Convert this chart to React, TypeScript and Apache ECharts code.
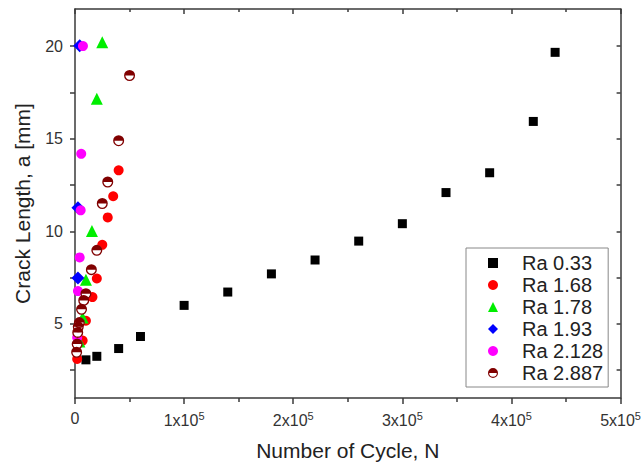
import React, { useEffect, useRef } from "react";
import * as echarts from "echarts";

// ---- data ----
const seriesNames = ["Ra 0.33", "Ra 1.68", "Ra 1.78", "Ra 1.93", "Ra 2.128", "Ra 2.887"];

const ra033N = [10000, 20000, 40000, 60000, 100000, 140000, 180000, 220000, 260000, 300000, 340000, 380000, 420000, 440000];
const ra033A = [3.06, 3.25, 3.67, 4.32, 6.0, 6.72, 7.7, 8.45, 9.47, 10.41, 12.09, 13.16, 15.93, 19.66];

const ra168N = [2000, 7000, 10000, 16000, 20000, 25000, 30000, 35000, 40000];
const ra168A = [3.11, 4.1, 5.17, 6.45, 7.45, 9.27, 10.75, 11.89, 13.29];

const ra178N = [4000, 7000, 10000, 15500, 20000, 25000];
const ra178A = [4.05, 5.34, 7.39, 10.02, 17.16, 20.2];

const ra193N = [2700, 2700, 4300];
const ra193A = [7.48, 11.27, 20.02];

const ra2128N = [2000, 2700, 4300, 5200, 5700, 7300];
const ra2128A = [4.27, 6.77, 8.59, 11.13, 14.18, 20.0];

const ra2887N = [1500, 2000, 2500, 3000, 4000, 6000, 8000, 10000, 15000, 20000, 25000, 30000, 40000, 50000];
const ra2887A = [3.47, 3.91, 4.54, 4.84, 5.07, 5.79, 6.27, 6.63, 7.93, 8.97, 11.5, 12.66, 14.89, 18.41];

const xTickValues = [0, 100000, 200000, 300000, 400000, 500000];
const yLabelValues = [5, 10, 15, 20];
const yTickValues = [2.5, 5, 7.5, 10, 12.5, 15, 17.5, 20];

const pairs = (xs: number[], ys: number[]) => xs.map((x, i) => [x, ys[i]]);

const FONT = "'Liberation Sans', Arial, sans-serif";
const AXIS_COLOR = "#3a3a3a";
const TEXT_COLOR = "#333";

const halfCircle =
  "path://M0,50 A50,50 0 0 1 100,50 Z M0,50 A50,50 0 0 0 100,50 L88,50 A38,38 0 0 1 12,50 Z";

export default function App() {
  const ref = useRef<HTMLDivElement | null>(null);

  useEffect(() => {
    if (!ref.current) return;
    const chart = echarts.init(ref.current, null, { renderer: "svg" });

    const axisLine = { show: true, onZero: false, lineStyle: { color: AXIS_COLOR, width: 1.5 } };

    const option: any = {
      animation: false,
      backgroundColor: "#fff",
      textStyle: { fontFamily: FONT },
      grid: { left: 75, right: 20, top: 9, bottom: 65 },
      legend: {
        data: seriesNames,
        orient: "vertical",
        left: 466,
        top: 248,
        padding: [5, 5, 4, 22],
        itemWidth: 10,
        itemHeight: 10,
        itemGap: 2,
        borderColor: "#888",
        borderWidth: 1,
        borderRadius: 0,
        formatter: "{t|{name}}",
        textStyle: {
          fontFamily: FONT,
          color: "#222",
          fontSize: 20,
          rich: { t: { fontFamily: FONT, fontSize: 20, color: "#222", lineHeight: 20, padding: [0, 0, 0, 19] } },
        },
      },
      xAxis: [
        {
          type: "value",
          position: "bottom",
          min: xTickValues[0],
          max: xTickValues[xTickValues.length - 1],
          interval: 100000,
          axisLine,
          axisTick: { show: true, length: 6, lineStyle: { color: AXIS_COLOR, width: 1.5 } },
          minorTick: { show: true, splitNumber: 2, length: 4, lineStyle: { color: AXIS_COLOR, width: 1.5 } },
          splitLine: { show: false },
          axisLabel: {
            margin: 12,
            fontSize: 16,
            color: TEXT_COLOR,
            fontFamily: FONT,
            formatter: (v: number) => (v === 0 ? "0" : `{b|${v / 100000}x10}{s|5}`),
            rich: {
              b: { fontSize: 16, color: TEXT_COLOR, fontFamily: FONT },
              s: { fontSize: 11, color: TEXT_COLOR, fontFamily: FONT, padding: [0, 0, 9, 0] },
            },
          },
          name: "Number of Cycle, N",
          nameLocation: "middle",
          nameGap: 42,
          nameTextStyle: { fontSize: 21, color: "#222", fontFamily: FONT },
        },
        {
          type: "value",
          position: "top",
          min: xTickValues[0],
          max: xTickValues[xTickValues.length - 1],
          interval: 100000,
          axisLine,
          axisTick: { show: true, inside: true, length: 5, lineStyle: { color: AXIS_COLOR, width: 1.5 } },
          minorTick: { show: true, splitNumber: 2, length: 3, lineStyle: { color: AXIS_COLOR, width: 1.5 } },
          splitLine: { show: false },
          axisLabel: { show: false },
        },
      ],
      yAxis: [
        {
          type: "value",
          position: "left",
          min: 1,
          max: 22,
          axisLine,
          axisTick: { show: true, length: 5, customValues: yTickValues, lineStyle: { color: AXIS_COLOR, width: 1.5 } },
          splitLine: { show: false },
          axisLabel: {
            customValues: yLabelValues,
            margin: 12,
            fontSize: 16,
            color: TEXT_COLOR,
            fontFamily: FONT,
          },
          name: "Crack Length, a [mm]",
          nameLocation: "middle",
          nameGap: 42,
          nameTextStyle: { fontSize: 21, color: "#222", fontFamily: FONT },
        },
        {
          type: "value",
          position: "right",
          min: 1,
          max: 22,
          axisLine,
          axisTick: { show: true, inside: true, length: 4, customValues: yTickValues, lineStyle: { color: AXIS_COLOR, width: 1.5 } },
          splitLine: { show: false },
          axisLabel: { show: false },
        },
      ],
      series: [
        {
          name: seriesNames[0],
          type: "scatter",
          symbol: "rect",
          symbolSize: 9,
          itemStyle: { color: "#000000", opacity: 1 },
          data: pairs(ra033N, ra033A),
        },
        {
          name: seriesNames[1],
          type: "scatter",
          symbol: "circle",
          symbolSize: 10,
          itemStyle: { color: "#ff0000", opacity: 1 },
          data: pairs(ra168N, ra168A),
        },
        {
          name: seriesNames[2],
          type: "scatter",
          symbol: "triangle",
          symbolSize: 12,
          itemStyle: { color: "#00ee00", opacity: 1 },
          data: pairs(ra178N, ra178A),
        },
        {
          name: seriesNames[3],
          type: "scatter",
          symbol: "diamond",
          symbolSize: 13,
          itemStyle: { color: "#0000ff", opacity: 1 },
          data: pairs(ra193N, ra193A),
        },
        {
          name: seriesNames[4],
          type: "scatter",
          symbol: "circle",
          symbolSize: 10,
          itemStyle: { color: "#ff00ff", opacity: 1 },
          data: pairs(ra2128N, ra2128A),
        },
        {
          name: "Ra 2.887 fill",
          type: "scatter",
          symbol: "circle",
          symbolSize: 10,
          itemStyle: { color: "#ffffff", opacity: 1 },
          silent: true,
          data: pairs(ra2887N, ra2887A),
        },
        {
          name: seriesNames[5],
          type: "scatter",
          symbol: halfCircle,
          symbolSize: 11,
          itemStyle: { color: "#800000", opacity: 1 },
          data: pairs(ra2887N, ra2887A),
        },
      ],
    };

    chart.setOption(option);
    return () => chart.dispose();
  }, []);

  return (
    <div
      ref={ref}
      style={{ position: "fixed", left: 0, top: 0, width: 644, height: 466, background: "#fff" }}
    />
  );
}
